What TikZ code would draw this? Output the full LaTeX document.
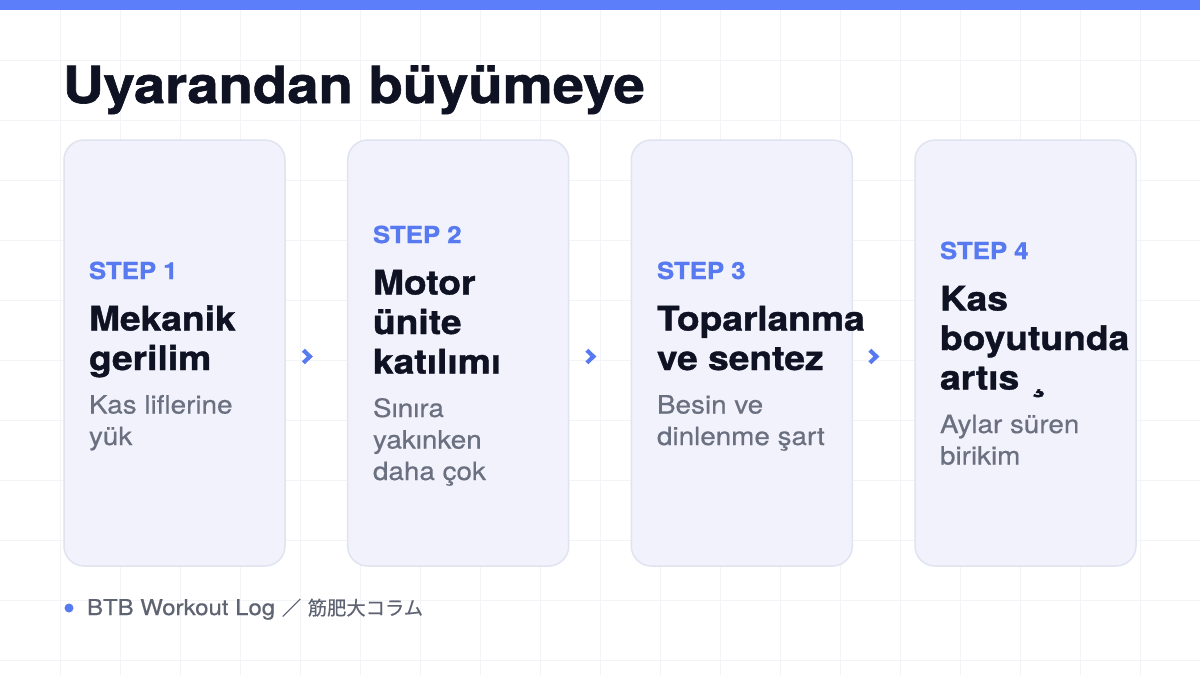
\documentclass[tikz,border=0pt]{standalone}
\usepackage{fontspec}
\setmainfont{TeX Gyre Heros}[FakeStretch=1.1, BoldFeatures={FakeBold=1.2}]
\newfontfamily\medfont{TeX Gyre Heros}[FakeStretch=1.1, FakeBold=0.5]
\newfontfamily\cjkfont{Noto Sans CJK JP}[FakeBold=0.4]
\definecolor{barblue}{RGB}{92,126,250}
\definecolor{stepblue}{RGB}{88,122,240}
\definecolor{ink}{RGB}{15,18,34}
\definecolor{bodygray}{RGB}{107,112,128}
\definecolor{footgray}{RGB}{95,100,115}
\definecolor{cardfill}{RGB}{241,242,251}
\definecolor{cardline}{RGB}{224,227,240}
\definecolor{gridcol}{RGB}{243,244,247}
\newcommand{\cjkpart}[1]{{\cjkfont\fontsize{19.3}{23}\selectfont #1}}
\tikzset{
  gridline/.style={draw=gridcol, line width=1pt},
  card/.style={draw=cardline, fill=cardfill, line width=1.5pt, rounded corners=20pt,
    minimum width=221pt, minimum height=426pt, inner sep=0pt},
  txt/.style={anchor=base west, inner sep=0pt, outer sep=0pt},
  titletxt/.style={txt, text=ink, font=\fontsize{51.1}{60}\selectfont\bfseries},
  steptxt/.style={txt, text=stepblue, font=\fontsize{23.4}{27}\selectfont\bfseries},
  headtxt/.style={txt, text=ink, font=\fontsize{33.8}{40}\selectfont\bfseries},
  bodytxt/.style={txt, text=bodygray, font=\medfont\fontsize{25.3}{30}\selectfont},
  foottxt/.style={txt, text=footgray, font=\medfont\fontsize{21.8}{25}\selectfont},
  chevline/.style={draw=stepblue, line width=4.2pt, line join=miter}
}
\begin{document}
\begin{tikzpicture}[x=1pt,y=-1pt]
\useasboundingbox (0,0) rectangle (1200,675);
\fill[white] (0,0) rectangle (1200,675);
% background grid
\foreach \gx in {60,120,...,1140} \draw[gridline] (\gx,0) -- (\gx,675);
\foreach \gy in {60,120,...,660} \draw[gridline] (0,\gy) -- (1200,\gy);
% top bar
\fill[barblue] (0,0) rectangle (1200,10);
% title
\node[titletxt] (title) at (63,103) {Uyarandan büyümeye};
% cards
\node[card] (c1) at (174.5,353) {};
\node[card] (c2) at (458.2,353) {};
\node[card] (c3) at (741.8,353) {};
\node[card] (c4) at (1025.5,353) {};
% chevrons between cards
\foreach \nm/\cx in {a12/307, a23/590.5, a34/873.5} {
  \coordinate (\nm) at (\cx,356.5);
  \draw[chevline] ([shift={(-3.6,-6.3)}]\nm) -- ([shift={(2.8,0)}]\nm) -- ([shift={(-3.6,6.3)}]\nm);
}
% card 1
\node[steptxt] (s1) at (89,279) {STEP 1};
\node[headtxt] (h1a) at (89,330.5) {Mekanik};
\node[headtxt] (h1b) at (89,370) {gerilim};
\node[bodytxt] (b1a) at (89,413.5) {Kas liflerine};
\node[bodytxt] (b1b) at (89,445) {yük};
% card 2
\node[steptxt] (s2) at (373,243) {STEP 2};
\node[headtxt] (h2a) at (373,294.5) {Motor};
\node[headtxt] (h2b) at (373,334) {ünite};
\node[headtxt] (h2c) at (373,373.5) {katılımı};
\node[bodytxt] (b2a) at (373,417) {Sınıra};
\node[bodytxt] (b2b) at (373,448.5) {yakınken};
\node[bodytxt] (b2c) at (373,480) {daha çok};
% card 3
\node[steptxt] (s3) at (657,279) {STEP 3};
\node[headtxt] (h3a) at (657,330.5) {Toparlanma};
\node[headtxt] (h3b) at (657,370) {ve sentez};
\node[bodytxt] (b3a) at (657,413.5) {Besin ve};
\node[bodytxt] (b3b) at (657,445) {dinlenme şart};
% card 4
\node[steptxt] (s4) at (940,259) {STEP 4};
\node[headtxt] (h4a) at (940,310.5) {Kas};
\node[headtxt] (h4b) at (940,350) {boyutunda};
\node[headtxt] (h4c) at (940,389.5) {artıs \hspace{3pt}¸};
\node[bodytxt] (b4a) at (940,433) {Aylar süren};
\node[bodytxt] (b4b) at (940,464.5) {birikim};
% footer
\fill[stepblue] (69,608) circle (4.5);
\node[foottxt] (foot) at (87,615) {BTB Workout Log \cjkpart{／} \cjkpart{筋肥大コラム}};
\end{tikzpicture}
\end{document}
